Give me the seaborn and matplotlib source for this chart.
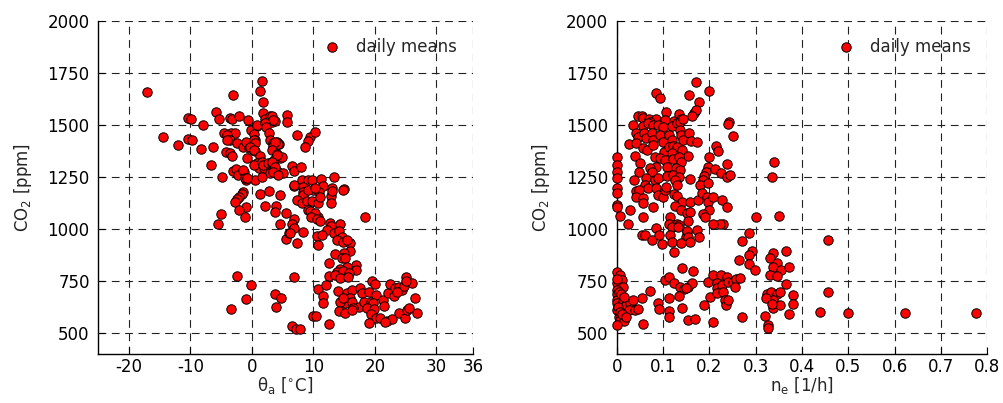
import matplotlib
matplotlib.use("Agg")
import matplotlib.pyplot as plt
import seaborn as sns

# daily means: outdoor temperature [C] vs CO2 [ppm]
temp_x = [
    -17.1, -14.5, -12.0, -10.4, -9.9, -10.3, -9.8, -7.9, -8.2, -6.3, -6.7, -4.9, -5.8, -5.3,
    -3.5, -3.2, -2.1, -3.0, -0.6, -4.5, -3.7, -3.4, -2.8, -4.0, -3.5, -2.4, -4.1, -4.2, -3.5,
    -3.2, -1.5, -0.9, -0.5, -0.8, -3.1, -2.6, -2.2, -1.2, -1.4, -0.9, 0.5, -1.1, -0.7, -0.2,
    0.8, 1.6, 1.4, 1.8, 1.9, 2.1, 3.0, 3.3, 3.8, 3.3, 3.5, 0.9, 2.2, 2.3, 2.8, 3.0, 0.3, 0.6,
    0.6, 0.3, 0.5, -0.3, 0.4, 1.4, 0.8, 1.1, 0.4, 1.6, 2.0, 1.9, 2.7, 3.4, 3.3, 4.0, 3.4, 4.1,
    4.4, 3.4, 4.3, 3.8, 3.3, 4.1, 4.6, 3.6, 4.9, 4.1, 3.0, 4.2, 5.1, 1.6, 3.3, 3.8, 3.5, 4.3,
    5.7, 5.8, 7.3, 9.4, 9.2, 10.2, 8.6, 6.5, 6.8, 8.0,
    -1.4, -1.6, -2.0, -2.4, -2.8, -0.9, -2.0, -1.1, -5.0, -5.5,
    1.4, 2.8, 4.6, 2.2, 4.0, 3.7, 5.6, 4.6, 5.6, 6.1,
    8.1, 9.2, 9.8, 11.2, 13.3, 6.9, 8.4, 8.3, 9.9, 11.6, 13.0, 15.0, 12.9, 8.4, 11.0, 13.0,
    14.9, 7.3, 8.1, 9.0, 9.8, 10.8, 12.9, 6.9, 9.2, 10.3, 11.1, 9.1, 10.8,
    6.8, 6.5, 9.4, 10.2, 9.6, 10.6, 11.1, 18.4, 6.9, 6.2, 8.4, 7.4,
    12.7, 12.9, 14.4, 12.2, 10.6, 11.4, 10.7, 13.3, 14.1, 14.7, 13.8, 14.9, 15.9, 15.5, 16.0,
    15.0, 13.6, 14.7, 15.2, 12.6, 17.0, 17.0, 15.4, 14.4, 13.8, 14.9, 15.8, 12.5, 13.6, 14.4,
    15.7, 6.9,
    -2.4, -0.2, -0.9, -3.4, 3.7, 4.7, 4.0, 6.6, 7.2, 7.9, 9.9, 10.4, 12.6,
    10.8, 12.1, 11.6, 11.6, 14.0, 15.5, 16.3, 15.9, 17.6, 17.9, 19.0, 15.2, 16.3, 14.4, 14.9,
    17.4, 16.5, 18.2, 19.3, 20.2, 19.7, 19.5, 20.1, 21.4, 21.5, 22.2, 22.5, 23.2, 23.9, 24.4,
    24.7, 25.0, 26.1, 25.1, 26.6, 23.1, 23.6, 14.1, 15.2, 16.3, 18.7, 19.9, 19.3, 20.2, 20.9,
    22.0, 22.8, 19.0, 23.9, 24.9, 25.2, 25.5, 26.8, 21.7,
]
temp_co2 = [
    1657, 1444, 1405, 1534, 1529, 1431, 1428, 1499, 1383, 1393, 1309, 1251, 1564, 1529,
    1532, 1529, 1542, 1644, 1524, 1460, 1447, 1460, 1463, 1452, 1428, 1415, 1428, 1370, 1365,
    1351, 1393, 1420, 1391, 1340, 1279, 1287, 1260, 1276, 1284, 1236, 1236, 1244, 1244, 1478,
    1495, 1712, 1665, 1612, 1559, 1527, 1542, 1513, 1521, 1543, 1524, 1500, 1508, 1489, 1460, 1428, 1457, 1428,
    1375, 1429, 1415, 1393, 1380, 1351, 1319, 1293, 1308, 1324, 1292, 1308, 1319, 1292, 1316, 1284, 1412, 1420,
    1409, 1399, 1409, 1420, 1380, 1361, 1340, 1332, 1348, 1356, 1268, 1276, 1268, 1251, 1324, 1300, 1276, 1260,
    1548, 1516, 1452, 1444, 1425, 1468, 1393, 1303, 1280, 1297,
    1179, 1168, 1152, 1143, 1131, 1107, 1091, 1059, 1071, 1027,
    1168, 1184, 1163, 1112, 1111, 1083, 1078, 1027, 952, 979,
    1236, 1236, 1236, 1239, 1249, 1207, 1203, 1179, 1188, 1207, 1199, 1191, 1160, 1163, 1179, 1183,
    1188, 1139, 1126, 1135, 1135, 1124, 1126, 1212, 1188, 1196, 1152, 1091, 1059,
    1051, 1027, 1088, 1076, 1059, 1051, 1038, 1059, 1006, 979, 987, 934,
    1030, 1014, 1027, 995, 966, 971, 923, 979, 992, 963, 947, 939, 931, 947, 896,
    883, 880, 859, 859, 838, 827, 803, 816, 806, 795, 800, 790, 774, 779, 763,
    768, 771,
    775, 731, 662, 614, 688, 670, 626, 534, 522, 522, 582, 582, 542,
    710, 731, 678, 643, 703, 691, 707, 667, 715, 691, 699, 643, 651, 651, 667,
    626, 619, 651, 651, 683, 643, 751, 736, 659, 630, 694, 736, 715, 723, 707,
    726, 771, 742, 751, 667, 678, 699, 607, 595, 610, 619, 614, 591, 575, 575,
    559, 566, 550, 598, 575, 610, 619, 595, 554,
]

# daily means: air change rate [1/h] vs CO2 [ppm]
ach_x = [
    0.171, 0.085, 0.094, 0.156, 0.199, 0.178, 0.106, 0.167, 0.171,
    0.047, 0.054, 0.057, 0.070, 0.086, 0.104, 0.124, 0.135, 0.139, 0.162, 0.072, 0.243, 0.241, 0.251,
    0.036, 0.057, 0.068, 0.079, 0.090, 0.101, 0.119, 0.130, 0.137, 0.144,
    0.042, 0.047, 0.059, 0.063, 0.076, 0.079, 0.094, 0.099, 0.112, 0.119, 0.137, 0.139, 0.144,
    0.156, 0.160, 0.174, 0.027, 0.042,
    0.056, 0.066, 0.079, 0.102, 0.112, 0.122, 0.130, 0.140, 0.119, 0.155, 0.215, 0.219, 0.040,
    0.000, 0.000, 0.000, 0.001, 0.001, 0.001, 0.000, 0.001, 0.007, 0.025,
    0.083, 0.094, 0.104, 0.122, 0.135, 0.138, 0.086, 0.109, 0.128, 0.137, 0.050, 0.049, 0.072,
    0.076, 0.063, 0.083, 0.090, 0.109, 0.122, 0.135, 0.158, 0.200, 0.198, 0.212, 0.238, 0.225,
    0.238, 0.245, 0.193, 0.189, 0.186, 0.180, 0.197,
    0.037, 0.061, 0.042, 0.049, 0.042, 0.057, 0.056, 0.068, 0.085, 0.090, 0.101, 0.104, 0.106,
    0.124, 0.130, 0.126, 0.130, 0.140, 0.158, 0.176, 0.184, 0.194, 0.198, 0.209,
    0.227, 0.238, 0.200, 0.229, 0.223, 0.207, 0.186, 0.191, 0.126, 0.138, 0.151, 0.158, 0.153,
    0.115, 0.112, 0.130, 0.135, 0.079, 0.056, 0.029, 0.086, 0.151, 0.150, 0.174, 0.178,
    0.054, 0.061, 0.076, 0.092, 0.097, 0.119, 0.115, 0.133, 0.119, 0.138, 0.151, 0.155, 0.158, 0.124,
    0.340, 0.336,
    0.301, 0.351, 0.286, 0.270, 0.292, 0.286, 0.265, 0.286, 0.299, 0.338, 0.331, 0.346, 0.338,
    0.355, 0.365, 0.373, 0.331, 0.346,
    0.365, 0.324, 0.333, 0.346, 0.353, 0.338, 0.337, 0.353, 0.380, 0.380, 0.373, 0.320, 0.327,
    0.327, 0.322, 0.335, 0.270,
    0.457, 0.457, 0.438, 0.499, 0.623, 0.776,
    0.000, 0.007, 0.011, 0.001, 0.013, 0.000, 0.000, 0.004, 0.000, 0.000, 0.013, 0.020, 0.029,
    0.036, 0.054, 0.027, 0.040, 0.047, 0.000, 0.004, 0.007, 0.016, 0.000, 0.057, 0.073, 0.090,
    0.092, 0.112, 0.114, 0.114, 0.104, 0.112, 0.140, 0.165, 0.124, 0.137, 0.145, 0.155, 0.162,
    0.135, 0.140, 0.155, 0.169, 0.209, 0.198, 0.209, 0.225, 0.217, 0.217, 0.227, 0.239, 0.241,
    0.251, 0.258, 0.256, 0.266, 0.202, 0.217, 0.230, 0.234, 0.236, 0.241, 0.189, 0.150,
    0.005, 0.010, 0.015, 0.003, 0.008, 0.012, 0.020, 0.000,
]
ach_co2 = [
    1708, 1655, 1631, 1644, 1665, 1612, 1563, 1560, 1574,
    1545, 1543, 1535, 1529, 1527, 1524, 1521, 1552, 1529, 1545, 1516, 1516, 1505, 1447,
    1500, 1495, 1508, 1500, 1500, 1489, 1495, 1508, 1516, 1527,
    1460, 1443, 1460, 1436, 1460, 1428, 1452, 1420, 1452, 1428, 1476, 1452, 1428,
    1460, 1425, 1420, 1409, 1412,
    1388, 1380, 1404, 1372, 1393, 1399, 1393, 1380, 1367, 1351, 1399, 1377, 1351,
    1345, 1308, 1276, 1244, 1196, 1175, 1116, 1105, 1063, 1027,
    1345, 1340, 1332, 1335, 1348, 1324, 1300, 1300, 1292, 1284, 1316, 1276, 1292,
    1276, 1244, 1236, 1244, 1255, 1260, 1252, 1239, 1345, 1297, 1287, 1313, 1268,
    1249, 1260, 1276, 1255, 1236, 1212, 1223,
    1236, 1212, 1185, 1188, 1156, 1148, 1124, 1196, 1196, 1164, 1156, 1188, 1204,
    1168, 1159, 1236, 1212, 1132, 1132, 1140, 1172, 1156, 1132, 1156,
    1140, 1108, 1092, 1027, 1027, 1027, 1075, 1059, 1111, 1092, 1079, 1084, 1040,
    1059, 1027, 1024, 1019, 1108, 1059, 1092, 1003, 987, 963, 995, 963,
    971, 971, 946, 971, 928, 1008, 971, 1011, 936, 931, 992, 963, 936, 888,
    1322, 1251,
    1056, 1063, 979, 944, 896, 875, 851, 832, 803, 883, 859, 836, 816,
    803, 896, 819, 779, 774,
    736, 688, 699, 688, 699, 659, 619, 635, 683, 640, 592, 582, 539,
    523, 667, 640, 576,
    947, 696, 602, 599, 595, 595,
    795, 779, 755, 739, 723, 707, 688, 667, 659, 643, 651, 635, 643,
    659, 667, 611, 611, 614, 611, 579, 563, 559, 539, 544, 704, 643,
    614, 667, 608, 576, 755, 771, 811, 798, 739, 723, 710, 723, 739,
    678, 619, 563, 566, 555, 744, 779, 779, 739, 715, 731, 771, 747,
    747, 758, 723, 763, 675, 694, 699, 659, 635, 659, 635, 715,
    700, 690, 675, 625, 600, 590, 580, 760,
]

temp_ticks = [-20, -10, 0, 10, 20, 30, 36]
ach_ticks = [0, 0.1, 0.2, 0.3, 0.4, 0.5, 0.6, 0.7, 0.8]
co2_ticks = [500, 750, 1000, 1250, 1500, 1750, 2000]

sns.set_style("white")
plt.rcParams["font.family"] = ["DejaVu Sans"]
plt.rcParams["mathtext.default"] = "regular"

fig = plt.figure(figsize=(10.04, 4.03), dpi=100)
ax1 = fig.add_axes([0.0976, 0.1216, 0.3738, 0.8263])
ax2 = fig.add_axes([0.6142, 0.1216, 0.3691, 0.8263])

panels = [
    (ax1, temp_x, temp_co2, temp_ticks, (-25, 36), r"$\theta_a$ [$^{\circ}$C]"),
    (ax2, ach_x, ach_co2, ach_ticks, (0, 0.8), r"n$_e$ [1/h]"),
]

for ax, xs, ys, xt, xl, xlab in panels:
    sns.scatterplot(x=xs, y=ys, ax=ax, color="#ff0000", edgecolor="black",
                    linewidth=0.7, s=46, label="daily means", zorder=3, clip_on=False)
    ax.set_xlim(*xl)
    ax.set_ylim(400, 2000)
    ax.set_xticks(xt)
    ax.set_xticklabels([("%g" % t) for t in xt])
    ax.set_yticks(co2_ticks)
    ax.grid(True, color="#222222", linestyle=(0, (7, 5)), linewidth=0.8)
    ax.set_axisbelow(True)
    for side in ["top", "right"]:
        ax.spines[side].set_visible(False)
    for side in ["left", "bottom"]:
        ax.spines[side].set_color("black")
        ax.spines[side].set_linewidth(1.0)
    ax.tick_params(direction="in", length=5, width=0.8, labelsize=12, colors="black",
                   left=True, bottom=True)
    ax.tick_params(axis="x", pad=3)
    ax.tick_params(axis="y", pad=6)
    ax.set_xlabel(xlab, fontsize=12, labelpad=-1)
    ax.set_ylabel("CO$_2$ [ppm]", fontsize=12, labelpad=10)
    ax.legend(loc="upper right", frameon=False, fontsize=12, handletextpad=0.4,
              borderaxespad=0.6, markerscale=1.0)

fig.savefig("out.png", dpi=100)
